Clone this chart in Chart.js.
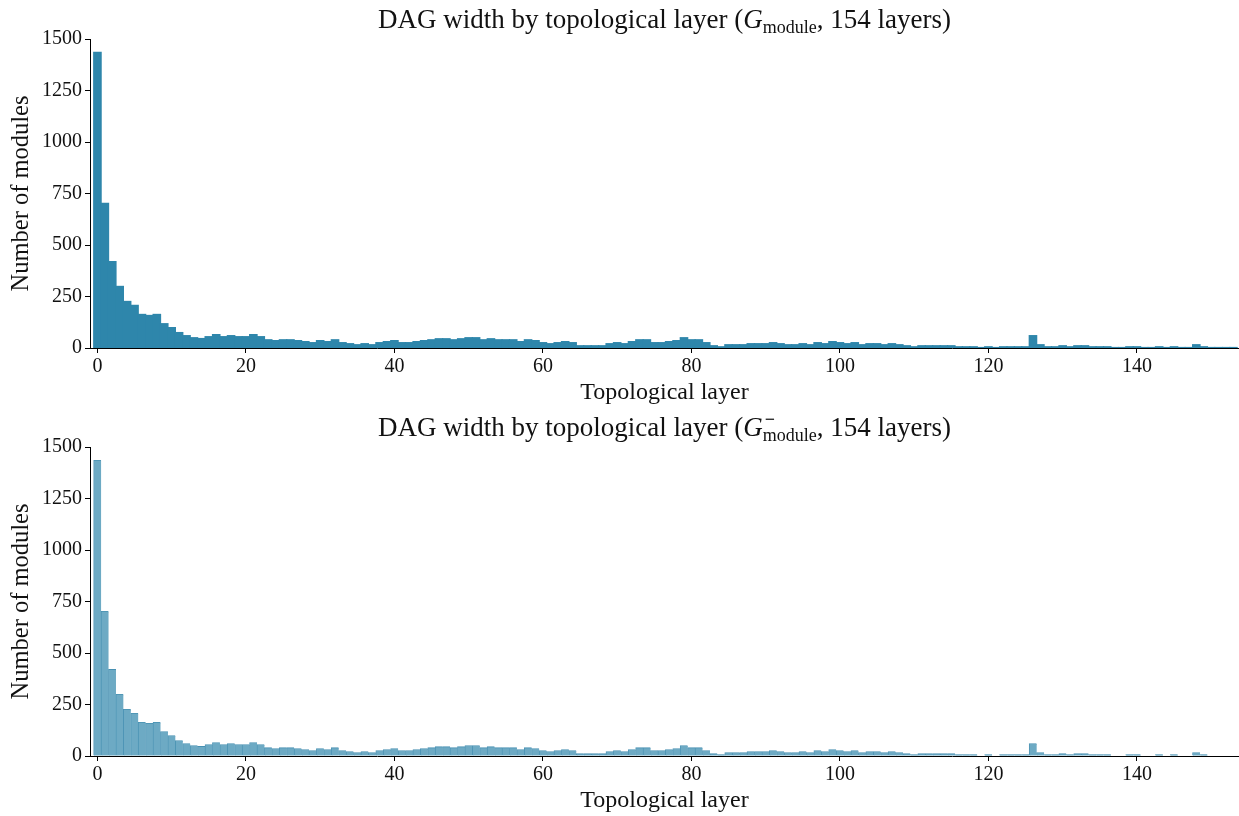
<!DOCTYPE html>
<html>
<head>
<meta charset="utf-8">
<script src="https://cdn.jsdelivr.net/npm/chart.js@4.4.1/dist/chart.umd.min.js"></script>
<style>
  body { margin: 0; background: #fff; }
  .panel { position: relative; width: 1239px; height: 408px; }
</style>
</head>
<body>
<div class="panel"><canvas id="fullChart"></canvas></div>
<div class="panel"><canvas id="reducedChart"></canvas></div>
<script>
// number of modules per topological layer (index = layer 0..153)
const moduleWidths = [
  1435, 702, 420, 299, 226, 207, 163, 158, 163, 118,
  99, 75, 60, 50, 46, 55, 65, 55, 60, 55,
  55, 65, 55, 40, 36, 40, 40, 36, 31, 26,
  36, 31, 40, 26, 21, 16, 21, 16, 26, 31,
  36, 26, 26, 31, 36, 40, 45, 45, 40, 45,
  50, 50, 40, 45, 40, 40, 40, 31, 40, 36,
  26, 21, 26, 31, 26, 11, 11, 11, 11, 21,
  26, 21, 31, 40, 40, 26, 26, 31, 36, 50,
  40, 40, 26, 11, 6, 16, 16, 16, 21, 21,
  21, 26, 21, 16, 16, 21, 16, 26, 21, 31,
  26, 21, 26, 16, 21, 21, 16, 21, 16, 11,
  6, 11, 11, 11, 11, 11, 6, 6, 6, 2,
  6, 2, 6, 6, 6, 6, 60, 16, 6, 6,
  11, 6, 11, 11, 6, 6, 6, 2, 2, 6,
  6, 2, 2, 6, 2, 6, 2, 2, 16, 6,
  2, 2, 2, 2
];
// the reduced graph has the same layer widths
const reducedWidths = moduleWidths;

const xTicks = [0, 20, 40, 60, 80, 100, 120, 140];
const yTicks = [0, 250, 500, 750, 1000, 1250, 1500];

const FONT = "'Liberation Serif', 'DejaVu Serif', serif";

// title with math-style G_module pieces
const mathTitle = {
  id: 'mathTitle',
  afterDraw(chart, args, opts) {
    const { ctx, chartArea } = chart;
    const big = 27, small = 18;
    const fontFor = (p) => {
      if (p.sub || p.sup) return `${small}px ${FONT}`;
      return (p.italic ? 'italic ' : '') + `${big}px ${FONT}`;
    };
    const widthOf = (p) => {
      ctx.font = fontFor(p);
      if (p.sub || p.sup) {
        return Math.max(ctx.measureText(p.sub || '').width, ctx.measureText(p.sup || '').width);
      }
      return ctx.measureText(p.text).width;
    };
    ctx.save();
    let total = 0;
    opts.parts.forEach(p => total += widthOf(p));
    let x = (chartArea.left + chartArea.right) / 2 - total / 2;
    const base = chartArea.top - 11;
    ctx.fillStyle = '#111';
    ctx.textBaseline = 'alphabetic';
    ctx.textAlign = 'left';
    opts.parts.forEach(p => {
      const w = widthOf(p);
      ctx.font = fontFor(p);
      if (p.sub || p.sup) {
        if (p.sub) ctx.fillText(p.sub, x, base + 5);
        if (p.sup) {
          ctx.font = `bold ${small}px ${FONT}`;
          ctx.fillText(p.sup, x + 2, base - 11);
        }
      } else {
        ctx.fillText(p.text, x, base);
      }
      x += w;
    });
    ctx.restore();
  }
};

function makeChart(id, widths, fill, edge, edgeWidth, inflate, titleParts) {
  return new Chart(document.getElementById(id), {
    type: 'bar',
    data: {
      datasets: [{
        data: widths.map((w, i) => ({ x: i, y: w })),
        backgroundColor: fill,
        borderColor: edge,
        borderWidth: edgeWidth,
        borderSkipped: 'bottom',
        barPercentage: 1,
        categoryPercentage: 1,
        inflateAmount: inflate
      }]
    },
    options: {
      responsive: true,
      maintainAspectRatio: false,
      animation: false,
      layout: { padding: { top: 39, left: 0, right: 0, bottom: 0 } },
      plugins: {
        legend: { display: false },
        tooltip: { enabled: false },
        mathTitle: { parts: titleParts }
      },
      scales: {
        x: {
          type: 'linear',
          min: -1,
          max: 153.75,
          offset: false,
          afterBuildTicks: s => { s.ticks = xTicks.map(v => ({ value: v })); },
          afterFit: s => { s.height = 60; },
          grid: { offset: false, drawOnChartArea: false, tickLength: 5, color: '#000', lineWidth: 1 },
          border: { color: '#000', width: 1 },
          ticks: { color: '#111', font: { family: FONT, size: 20 }, padding: 2, maxRotation: 0, autoSkip: false,
                   callback: v => String(v) },
          title: { display: true, text: 'Topological layer', color: '#111', font: { family: FONT, size: 24 }, padding: { top: 0, bottom: 1 } }
        },
        y: {
          min: 0,
          max: 1500,
          afterBuildTicks: s => { s.ticks = yTicks.map(v => ({ value: v })); },
          afterFit: s => { s.width = 90; },
          grid: { drawOnChartArea: false, tickLength: 5, color: '#000', lineWidth: 1 },
          border: { color: '#000', width: 1 },
          ticks: { color: '#111', font: { family: FONT, size: 20 }, padding: 3, callback: v => String(v) },
          title: { display: true, text: 'Number of modules', color: '#111', font: { family: FONT, size: 24.5 }, padding: { top: 7, bottom: 0 } }
        }
      }
    },
    plugins: [mathTitle]
  });
}

makeChart('fullChart', moduleWidths, '#2E86AB', '#2E86AB', 0, 0.6, [
  { text: 'DAG width by topological layer (' },
  { text: 'G', italic: true },
  { sub: 'module' },
  { text: ', 154 layers)' }
]);

makeChart('reducedChart', reducedWidths, '#6daac4', '#4790b2',
  { left: 0.8, right: 0, top: 0.8, bottom: 0 }, 0.4, [
  { text: 'DAG width by topological layer (' },
  { text: 'G', italic: true },
  { sub: 'module', sup: '\u2212' },
  { text: ', 154 layers)' }
]);
</script>
</body>
</html>
